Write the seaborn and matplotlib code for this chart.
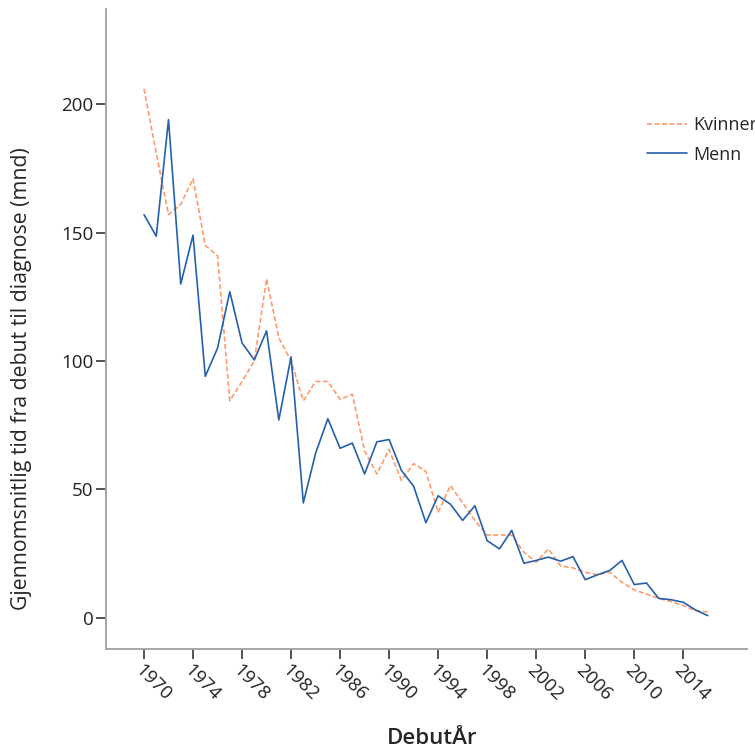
import numpy as np
import pandas as pd
import matplotlib
matplotlib.use("Agg")
import matplotlib.pyplot as plt
import seaborn as sns

years = list(range(1970, 2017))
kvinner = [206, 181, 157, 161, 171, 145, 141, 84.5, 92, 100,
           132, 109, 100, 84.5, 92, 92, 85, 87, 65, 56,
           65.5, 53.5, 60, 57, 41, 51.5, 44.7, 37.9, 32.2, 32.2,
           32.2, 25.5, 21.6, 26.8, 20.1, 19.4, 17.7, 16.7, 17.7, 13.8,
           10.8, 9.2, 7.5, 6.3, 4.7, 2.7, 2.3]
menn = [157, 148.6, 194, 130, 149, 94, 105, 127, 107, 100.4,
        111.7, 77, 101.6, 44.7, 64, 77.5, 66, 68, 56, 68.5,
        69.4, 57.4, 51.2, 37, 47.5, 44.2, 37.9, 43.6, 30, 26.8,
        34, 21.2, 22.3, 23.6, 22, 23.8, 14.8, 16.7, 18.4, 22.3,
        12.9, 13.5, 7.5, 7, 6, 3, 0.8]
xticks = list(range(1970, 2015, 4))
yticks = [0, 50, 100, 150, 200]

sns.set_style("white")
plt.rcParams['font.family'] = ['Open Sans', 'DejaVu Sans']

fig = plt.figure(figsize=(7.55, 7.51), dpi=100)
ax = fig.add_axes([106/755, 1-649/751, (747-106)/755, (649-9)/751])

orange = "#FF9A6C"
blue = "#2560AC"
sns.lineplot(x=years, y=kvinner, ax=ax, color=orange, linewidth=1.2,
             linestyle=(0, (3, 1.5)), label="Kvinner")
sns.lineplot(x=years, y=menn, ax=ax, color=blue, linewidth=1.2, label="Menn")

ax.set_xlim(1966.9, 2019.2)
ax.set_ylim(-12.2, 237.1)
ax.set_xticks(xticks)
ax.set_yticks(yticks)
ax.set_xticklabels([str(t) for t in xticks], rotation=-45, ha='left', va='top',
                   rotation_mode='anchor', fontsize=13.5, color='#222222')
ax.set_yticklabels([str(t) for t in yticks], fontsize=13.5, color='#222222')

for s in ['top', 'right']:
    ax.spines[s].set_visible(False)
for s in ['left', 'bottom']:
    ax.spines[s].set_color('#a6a6a6')
    ax.spines[s].set_linewidth(1.4)
ax.tick_params(axis='both', which='major', direction='out', length=7,
               width=1.2, color='#333333', left=True, bottom=True, pad=2)

ax.set_xlabel("DebutÅr", fontsize=16, fontweight='semibold', va='top')
ax.xaxis.set_label_coords((432-106)/641, (649-728)/640)
ax.set_ylabel("Gjennomsnitlig tid fra debut til diagnose (mnd)", fontsize=15.3,
              va='center')
ax.yaxis.set_label_coords((21-106)/641, (649-378.5)/640)

leg = ax.legend(loc='upper left', bbox_to_anchor=(647/755, 1-116/751),
                bbox_transform=fig.transFigure, frameon=False, fontsize=13,
                handlelength=2.2, handletextpad=0.35, labelspacing=0.65,
                borderaxespad=0, borderpad=0)

fig.savefig("out.png", dpi=100)
